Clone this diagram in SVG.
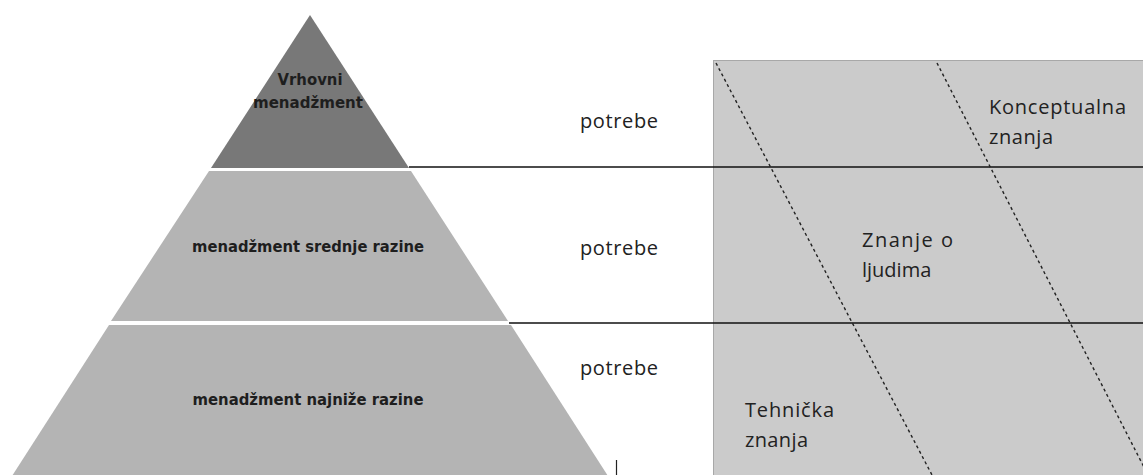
<svg xmlns="http://www.w3.org/2000/svg" width="1143" height="475" viewBox="0 0 1143 475">
<style>
.lvl{font-family:"DejaVu Sans Condensed","DejaVu Sans",sans-serif;font-weight:bold;font-size:15.5px;fill:#1e1e1e;text-anchor:middle}
.lbl{font-family:"Open Sans","Liberation Sans",sans-serif;font-size:20px;fill:#222}
.sep{stroke:#111;stroke-width:1.5}
.dash{stroke:#222;stroke-width:1.4;stroke-dasharray:3 3;fill:none}
</style>
<rect width="1143" height="475" fill="#fff"/>
<g id="skills-panel">
<rect x="713.5" y="60.5" width="440" height="420" fill="#cbcbcb" stroke="#a8a8a8" stroke-width="1"/>
</g>
<g id="top-level">
<polygon points="310,15 409,168 211,168" fill="#787878"/>
<text class="lvl" x="310" y="85" textLength="65" lengthAdjust="spacingAndGlyphs">Vrhovni</text>
<text class="lvl" x="308" y="108" textLength="110" lengthAdjust="spacingAndGlyphs">menadžment</text>
</g>
<g id="middle-level">
<polygon points="209,171 411,171 508,321 111,321" fill="#b4b4b4"/>
<text class="lvl" x="308" y="252" textLength="232" lengthAdjust="spacingAndGlyphs">menadžment srednje razine</text>
</g>
<g id="lower-level">
<polygon points="109,325 511,325 608,476 12,476" fill="#b4b4b4"/>
<text class="lvl" x="308" y="405" textLength="231" lengthAdjust="spacingAndGlyphs">menadžment najniže razine</text>
</g>
<g id="connectors">
<line class="sep" x1="409" y1="167" x2="1143" y2="167"/>
<line class="sep" x1="509" y1="323" x2="1143" y2="323"/>
<line x1="616.5" y1="460" x2="616.5" y2="475" stroke="#222" stroke-width="1.2"/>
<line class="dash" x1="716" y1="63" x2="932" y2="475"/>
<line class="dash" x1="937" y1="63" x2="1148" y2="475"/>
</g>
<g id="labels">
<text class="lbl" x="580" y="128" textLength="78">potrebe</text>
<text class="lbl" x="580" y="255" textLength="78">potrebe</text>
<text class="lbl" x="580" y="375" textLength="78">potrebe</text>
<text class="lbl" x="989" y="114" textLength="137">Konceptualna</text>
<text class="lbl" x="989" y="144" textLength="64">znanja</text>
<text class="lbl" x="862" y="247" textLength="91">Znanje o</text>
<text class="lbl" x="862" y="277">ljudima</text>
<text class="lbl" x="745" y="417" textLength="89">Tehnička</text>
<text class="lbl" x="745" y="447" textLength="63">znanja</text>
</g>
</svg>
